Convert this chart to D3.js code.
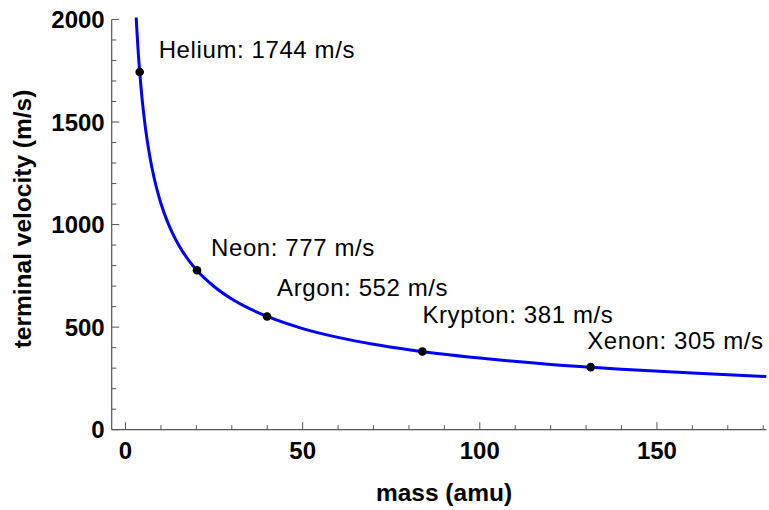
<!DOCTYPE html>
<html>
<head>
<meta charset="utf-8">
<script src="https://cdn.jsdelivr.net/npm/d3@7"></script>
<style>
  body { margin: 0; background: #fff; }
  svg { display: block; font-family: "Liberation Sans", Arial, sans-serif; }
</style>
</head>
<body>
<svg id="id_svg" width="769" height="510"></svg>
<script>
// gases and their terminal velocities (m/s)
gases = ["Helium", "Neon", "Argon", "Krypton", "Xenon"]
gasMass = [4.0026, 20.18, 39.95, 83.8, 131.29]
gasVelocity = [1744, 777, 552, 381, 305]

// the plotted curve
curveMass = [3, 3.25, 3.5, 3.75, 4, 4.5, 5, 5.5, 6, 7, 8, 9, 10, 12, 14, 16, 18, 20, 25, 30, 35, 40, 50, 60, 70, 80, 100, 120, 140, 160, 181]
curveVelocity = [2014, 1935, 1864, 1801, 1744, 1644, 1560, 1487, 1424, 1318, 1233, 1163, 1103, 1007, 932, 872, 822, 780, 698, 637, 590, 552, 493, 450, 417, 390, 349, 318, 295, 276, 259]

xMajor = [0, 50, 100, 150]
yMajor = [0, 500, 1000, 1500, 2000]

chart = function() {
    const svg = d3.select("#id_svg");

    const x = d3.scaleLinear().domain([-3.9, 180.9]).range([111.7, 766.4]);
    const y = d3.scaleLinear().domain([0, 2010]).range([429.7, 17.4]);

    const axisColor = "#555";

    // x axis, ticks point into the plot
    const xAxis = svg.append("g").attr("transform", `translate(0,${y(0)})`);
    xAxis.append("line")
        .attr("x1", x.range()[0]).attr("x2", x.range()[1])
        .attr("stroke", axisColor).attr("stroke-width", 1.2);
    const xMinor = d3.range(0, 181, 10).filter(v => !xMajor.includes(v));
    xAxis.selectAll(".minor").data(xMinor).join("line")
        .attr("x1", d => x(d)).attr("x2", d => x(d))
        .attr("y1", 0).attr("y2", -4.5)
        .attr("stroke", axisColor);
    xAxis.selectAll(".major").data(xMajor).join("line")
        .attr("x1", d => x(d)).attr("x2", d => x(d))
        .attr("y1", 0).attr("y2", -7.5)
        .attr("stroke", axisColor);
    xAxis.selectAll("text").data(xMajor).join("text")
        .attr("x", d => x(d)).attr("y", 29.5)
        .attr("text-anchor", "middle")
        .attr("font-size", 24).attr("font-weight", "bold")
        .text(d => d);

    // y axis
    const yAxis = svg.append("g").attr("transform", `translate(${x.range()[0]},0)`);
    yAxis.append("line")
        .attr("y1", y(0)).attr("y2", y(2000))
        .attr("stroke", axisColor).attr("stroke-width", 1.2);
    const yMinor = d3.range(0, 2001, 100).filter(v => !yMajor.includes(v));
    yAxis.selectAll(".minor").data(yMinor).join("line")
        .attr("y1", d => y(d)).attr("y2", d => y(d))
        .attr("x1", 0).attr("x2", 4.5)
        .attr("stroke", axisColor);
    yAxis.selectAll(".major").data(yMajor).join("line")
        .attr("y1", d => y(d)).attr("y2", d => y(d))
        .attr("x1", 0).attr("x2", 7.5)
        .attr("stroke", axisColor);
    yAxis.selectAll("text").data(yMajor).join("text")
        .attr("x", -7).attr("y", d => y(d) + 8.5)
        .attr("text-anchor", "end")
        .attr("font-size", 24).attr("font-weight", "bold")
        .text(d => d);

    // axis titles
    svg.append("text")
        .attr("x", 444).attr("y", 501)
        .attr("text-anchor", "middle")
        .attr("font-size", 24.5).attr("font-weight", "bold")
        .text("mass (amu)");
    svg.append("text")
        .attr("transform", "translate(31,219) rotate(-90)")
        .attr("text-anchor", "middle")
        .attr("font-size", 24.5).attr("font-weight", "bold")
        .text("terminal velocity (m/s)");

    // curve, clipped to the plot area
    svg.append("clipPath").attr("id", "plot-clip")
        .append("rect")
        .attr("x", x.range()[0]).attr("y", y.range()[1])
        .attr("width", x.range()[1] - x.range()[0])
        .attr("height", y.range()[0] - y.range()[1]);

    const line = d3.line()
        .x(d => x(d[0]))
        .y(d => y(d[1]))
        .curve(d3.curveMonotoneX);

    svg.append("path")
        .datum(d3.zip(curveMass, curveVelocity))
        .attr("clip-path", "url(#plot-clip)")
        .attr("fill", "none")
        .attr("stroke", "#0000ff")
        .attr("stroke-width", 3)
        .attr("d", line);

    // gas points and their labels
    const pts = gases.map((g, i) => ({ name: g, m: gasMass[i], v: gasVelocity[i] }));
    // label offsets from each point, in pixels
    const offsets = [[19, -13.5], [14, -14], [10, -20.5], [0, -28.5], [-3.5, -17.7]];

    svg.append("g").selectAll("circle").data(pts).join("circle")
        .attr("cx", d => x(d.m)).attr("cy", d => y(d.v))
        .attr("r", 4.3)
        .attr("fill", "#000");

    svg.append("g").selectAll("text").data(pts).join("text")
        .attr("x", (d, i) => x(d.m) + offsets[i][0])
        .attr("y", (d, i) => y(d.v) + offsets[i][1])
        .attr("font-size", 24)
        .attr("letter-spacing", 0.6)
        .attr("fill", "#000")
        .text(d => `${d.name}: ${d.v} m/s`);

    return svg.node();
}
chart()
</script>
</body>
</html>
